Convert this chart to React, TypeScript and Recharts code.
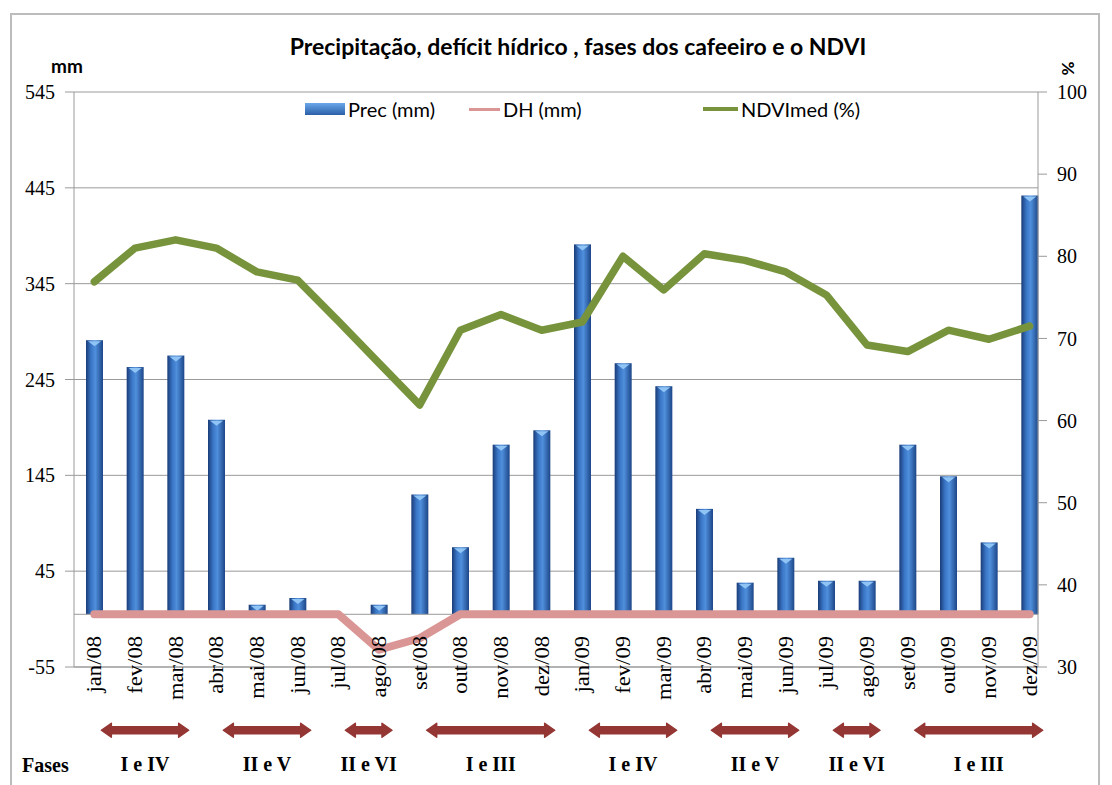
import React from 'react';
import { ComposedChart, Bar, Line, XAxis, YAxis, CartesianGrid, ReferenceLine } from 'recharts';

const months = [
  'jan/08', 'fev/08', 'mar/08', 'abr/08', 'mai/08', 'jun/08', 'jul/08', 'ago/08', 'set/08', 'out/08', 'nov/08', 'dez/08',
  'jan/09', 'fev/09', 'mar/09', 'abr/09', 'mai/09', 'jun/09', 'jul/09', 'ago/09', 'set/09', 'out/09', 'nov/09', 'dez/09',
];
const precMm = [286, 258, 270, 203, 10, 17, 0, 10, 125, 70, 177, 192, 386, 262, 238, 110, 33, 59, 35, 35, 177, 144, 75, 437];
const dhMm = [0, 0, 0, 0, 0, 0, 0, -37, -25, 0, 0, 0, 0, 0, 0, 0, 0, 0, 0, 0, 0, 0, 0, 0];
const ndviPct = [76.9, 81.0, 82.0, 81.0, 78.1, 77.1, 72.1, 67.0, 61.9, 71.0, 72.9, 71.0, 72.0, 80.0, 75.9, 80.3, 79.5, 78.1, 75.3, 69.2, 68.4, 71.0, 69.9, 71.5];

const leftTicks = [-55, 45, 145, 245, 345, 445, 545];
const rightTicks = [30, 40, 50, 60, 70, 80, 90, 100];

const phases = [
  { label: 'I e IV', from: 'jan/08', to: 'mar/08' },
  { label: 'II e V', from: 'abr/08', to: 'jun/08' },
  { label: 'II e VI', from: 'jul/08', to: 'ago/08' },
  { label: 'I e III', from: 'set/08', to: 'dez/08' },
  { label: 'I e IV', from: 'jan/09', to: 'mar/09' },
  { label: 'II e V', from: 'abr/09', to: 'jun/09' },
  { label: 'II e VI', from: 'jul/09', to: 'ago/09' },
  { label: 'I e III', from: 'set/09', to: 'dez/09' },
];
// the phase arrows sit under the axis, expressed in mm on the left scale
const PHASE_LEVEL = -121;

const data = months.map((m, i) => ({ month: m, prec: precMm[i], dh: dhMm[i], ndvi: ndviPct[i] }));

const serif = '"Liberation Serif", "DejaVu Serif", serif';
const sans = 'Lato, "Open Sans", sans-serif';

const PrecBar = (props: any) => {
  const { x, y, width, height } = props;
  if (!height || height <= 0) return null;
  const cx = x + width / 2;
  return (
    <g>
      <rect x={x} y={y} width={width} height={height} fill="url(#precGrad)" />
      <path d={`M${x + 2},${y + 1} L${x + width - 2},${y + 1} L${cx},${y + Math.min(6, height)} Z`} fill="#8fc4f4" />
    </g>
  );
};

// Excel hangs the month labels from the zero line, so they start above the bottom of the plot
const MonthTick = (props: any) => {
  const { x, y, payload } = props;
  const ty = y - 39;
  return (
    <text
      transform={`translate(${x}, ${ty}) rotate(-90) scale(1.13, 1)`}
      textAnchor="end"
      dy="0.35em"
      fontFamily={serif}
      fontSize={20}
      fill="#000"
    >
      {payload.value}
    </text>
  );
};

const phaseArrow = (label: string) => (props: any) => {
  const { x1, y1, x2 } = props;
  const a = x1 + 7;
  const b = x2 + 13;
  const h = 3.5, head = 10, hw = 7;
  const d = `M${a},${y1} L${a + head},${y1 - hw} L${a + head},${y1 - h} L${b - head},${y1 - h} L${b - head},${y1 - hw} L${b},${y1} L${b - head},${y1 + hw} L${b - head},${y1 + h} L${a + head},${y1 + h} L${a + head},${y1 + hw} Z`;
  return (
    <g>
      <path d={d} fill="#943634" stroke="#943634" strokeWidth={1.5} strokeLinejoin="round" />
      <text x={(a + b) / 2} y={y1 + 41} textAnchor="middle" fontFamily={serif} fontWeight="bold" fontSize={20} fill="#000">
        {label}
      </text>
    </g>
  );
};

export default function App() {
  return (
    <div style={{ position: 'relative', width: 1096, height: 777, overflow: 'hidden', background: '#fff' }}>
      <div style={{ position: 'absolute', left: 2, top: 5, width: 1090, height: 800, border: '2px solid #bcbcbc', boxSizing: 'border-box' }} />
      <div style={{ position: 'absolute', left: 0, top: 24, width: 1140, textAlign: 'center', fontFamily: sans, fontWeight: 'bold', fontSize: 23, color: '#000' }}>
        Precipitação, defícit hídrico , fases dos cafeeiro e o NDVI
      </div>
      <div style={{ position: 'absolute', left: 43, top: 46, fontFamily: sans, fontWeight: 'bold', fontSize: 19 }}>mm</div>
      <div style={{ position: 'absolute', left: 1054, top: 50, fontFamily: sans, fontWeight: 'bold', fontSize: 17, transform: 'rotate(90deg)' }}>%</div>
      <div style={{ position: 'absolute', left: 14, top: 746, fontFamily: serif, fontWeight: 'bold', fontSize: 20 }}>Fases</div>

      <ComposedChart width={1096} height={777} data={data} margin={{ top: 84, right: 16, bottom: 58, left: 16 }}>
        <defs>
          <linearGradient id="precGrad" x1="0" y1="0" x2="1" y2="0">
            <stop offset="0%" stopColor="#1a3c78" />
            <stop offset="30%" stopColor="#3a76c6" />
            <stop offset="55%" stopColor="#4f8fdc" />
            <stop offset="100%" stopColor="#1d4688" />
          </linearGradient>
        </defs>
        <CartesianGrid yAxisId="left" vertical={false} stroke="#9a9a9a" />
        <XAxis
          dataKey="month"
          interval={0}
          tick={<MonthTick />}
          tickLine={false}
          axisLine={{ stroke: '#9a9a9a' }}
          height={60}
          padding={{ left: 0, right: -12 }}
        />
        <YAxis
          yAxisId="left"
          domain={[-55, 545]}
          ticks={leftTicks}
          width={50}
          tickSize={9}
          tickMargin={10}
          tick={{ fontFamily: serif, fontSize: 20, fill: '#000' }}
          tickLine={{ stroke: '#9a9a9a' }}
          axisLine={{ stroke: '#9a9a9a' }}
        />
        <YAxis
          yAxisId="right"
          orientation="right"
          domain={[30, 100]}
          ticks={rightTicks}
          width={50}
          tickSize={9}
          tickMargin={10}
          tick={{ fontFamily: serif, fontSize: 20, fill: '#000' }}
          tickLine={{ stroke: '#9a9a9a' }}
          axisLine={{ stroke: '#9a9a9a' }}
        />
        <ReferenceLine yAxisId="left" y={0} stroke="#9a9a9a" />
        <Bar yAxisId="left" dataKey="prec" barSize={17} shape={<PrecBar />} isAnimationActive={false} />
        <Line yAxisId="left" dataKey="dh" stroke="#da9694" strokeWidth={8} dot={false} strokeLinejoin="round" strokeLinecap="round" isAnimationActive={false} />
        <Line yAxisId="right" dataKey="ndvi" stroke="#77933c" strokeWidth={7.5} dot={false} strokeLinejoin="round" strokeLinecap="round" isAnimationActive={false} />
        {phases.map((p, i) => (
          <ReferenceLine
            key={i}
            yAxisId="left"
            ifOverflow="visible"
            segment={[{ x: p.from, y: PHASE_LEVEL }, { x: p.to, y: PHASE_LEVEL }]}
            shape={phaseArrow(p.label)}
          />
        ))}
      </ComposedChart>

      <div style={{ position: 'absolute', left: 297, top: 89, display: 'flex', alignItems: 'center', fontFamily: sans, fontSize: 20, color: '#000' }}>
        <div style={{ width: 164, display: 'flex', alignItems: 'center' }}>
          <div style={{ width: 40, height: 12, background: 'linear-gradient(#6aa8ea, #2b5fa8)', marginRight: 3 }} />
          Prec (mm)
        </div>
        <div style={{ width: 234, display: 'flex', alignItems: 'center' }}>
          <div style={{ width: 31, height: 3, background: '#da9694', marginRight: 3 }} />
          DH (mm)
        </div>
        <div style={{ display: 'flex', alignItems: 'center' }}>
          <div style={{ width: 35, height: 4, background: '#77933c', marginRight: 3 }} />
          NDVImed (%)
        </div>
      </div>
    </div>
  );
}
